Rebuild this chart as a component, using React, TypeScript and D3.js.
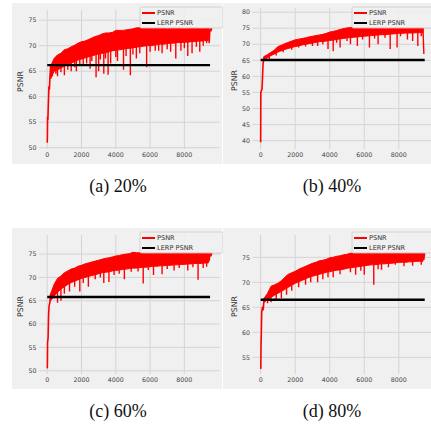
import React from 'react';
import * as d3 from 'd3';

const steps = d3.range(200, 9401, 200);
const xTicks = [0, 2000, 4000, 6000, 8000];
const lerpSpan = [0, 9500];

// (a) 20%
const earlyA: [number, number][] = [[0, 51], [10, 52], [20, 56], [40, 55.5], [60, 58], [80, 60], [100, 62], [130, 61.5], [160, 64], [200, 66]];
const hiA = [66, 67.5, 68.2, 68.5, 69.2, 69.4, 69.8, 70.1, 70.5, 70.8, 70.9, 71.2, 71.5, 71.8, 72, 72.3, 72.5, 72.5, 72.6, 73, 73, 73, 73.1, 73.2, 73.3, 73.5, 73.5,
  73.4, 73.5, 73.5, 73.4, 73.5, 73.5, 73.5, 73.4, 73.5, 73.5, 73.5, 73.5, 73.4, 73.5, 73.5, 73.5, 73.5, 73.4, 73.5, 73.5];
const loA = [63.5, 65, 65.3, 65.6, 66, 66.3, 66.6, 66.9, 67.2, 67.4, 67.6, 67.8, 68, 68.2, 68.4, 68.5, 68.6, 68.8, 69, 69.1,
  69.2, 69.3, 69.4, 69.5, 69.6, 69.7, 69.8, 69.9, 70, 70, 70.1, 70.2, 70.3, 70.3, 70.4, 70.5, 70.5, 70.6, 70.6, 70.7,
  70.7, 70.8, 70.8, 70.9, 70.9, 71, 71];
const dipsA: [number, number][] = [[300, 64], [500, 64.5], [600, 64], [800, 64.8], [1000, 64.2], [1200, 65.3], [1400, 65], [1600, 65.8], [1700, 65],
  [1900, 66.3], [2100, 66], [2300, 66.5], [2500, 65.5], [2600, 67], [2850, 63.8], [3000, 65], [3100, 67.3], [3300, 64.5], [3400, 67.5],
  [3550, 64.3], [3700, 66.5], [4000, 67.8], [4100, 67], [4450, 65.3], [4600, 68], [4850, 64.2], [5000, 68.3], [5200, 67.5], [5400, 68.5],
  [5800, 65.8], [6000, 68.8], [6300, 69], [6500, 69], [6700, 68.5], [7000, 69.3], [7200, 68.8], [7500, 67.5], [7800, 69], [8000, 69.5],
  [8200, 68], [8450, 68.5], [8700, 69.8], [8900, 68.8], [9100, 70], [9300, 70.5]];
const endA: [number, number][] = [[9400, 73.5], [9450, 70.5], [9500, 73.5], [9550, 72.8], [9600, 73.5]];
const lerpA = 66.2;
const yTicksA = [50, 55, 60, 65, 70, 75];

// (b) 40%
const earlyB: [number, number][] = [[0, 39.5], [10, 55], [40, 55.5], [80, 56], [110, 60], [140, 64], [170, 65], [200, 66.2]];
const hiB = [66.2, 66.8, 67.5, 68.2, 69.3, 69.7, 70.2, 70.6, 71, 71.4, 71.6, 71.8, 72, 72.3, 72.5, 72.7, 72.9, 73.1, 73.4, 73.8, 74, 74.3, 74.6, 74.9, 75.1, 75.2,
  75.2, 75.2, 75.1, 75.2, 75.2, 75.2, 75.2, 75.1, 75.2, 75.2, 75.2, 75.2, 75.2, 75.1, 75.2, 75.2, 75.2, 75.2, 75.2, 75.2, 75.2];
const loB = [65.2, 65.8, 66.5, 67, 67.6, 68, 68.4, 68.7, 69, 69.3, 69.5, 69.8, 70, 70.2, 70.4, 70.6, 70.8, 70.9, 71, 71.2,
  71.3, 71.5, 71.7, 71.8, 72, 72.1, 72.2, 72.3, 72.4, 72.5, 72.6, 72.7, 72.8, 72.9, 73, 73, 73.1, 73.2, 73.3, 73.4,
  73.4, 73.5, 73.5, 73.5, 73.6, 73.6, 73.6];
const dipsB: [number, number][] = [[500, 65], [900, 66.5], [1300, 67.5], [1800, 68.3], [2200, 69], [2600, 69.3], [3000, 69.5], [3300, 69.5],
  [3600, 70], [3900, 68.5], [4200, 67.8], [4400, 70.5], [4600, 69], [5000, 71], [5200, 70], [5600, 69.5], [5900, 71.5], [6300, 69],
  [6600, 71.8], [6800, 70], [7200, 72], [7500, 68.5], [7900, 69], [8100, 72.5], [8500, 71.5], [8800, 71], [9100, 69.5], [9300, 72.5]];
const endB: [number, number][] = [[9400, 75.2], [9450, 67]];
const lerpB = 65.1;
const yTicksB = [40, 45, 50, 55, 60, 65, 70, 75, 80];

// (c) 60%
const earlyC: [number, number][] = [[0, 50.5], [10, 51], [20, 56], [50, 57], [80, 62], [110, 64], [150, 64.5], [200, 66.5]];
const hiC = [66.5, 68.5, 69.8, 70.3, 71, 71.4, 71.8, 72, 72.4, 72.6, 72.9, 73.1, 73.3, 73.5, 73.7, 73.9, 74.1, 74.2, 74.4, 74.6, 74.7, 74.9, 75, 75.1, 75.4, 75.3, 75.3,
  75.3, 75.3, 75.2, 75.3, 75.3, 75.4, 75.3, 75.3, 75.2, 75.3, 75.3, 75.3, 75.4, 75.3, 75.3, 75.2, 75.3, 75.3, 75.3, 75.3];
const loC = [65, 66, 66.8, 67.5, 68, 68.5, 68.9, 69.2, 69.5, 69.8, 70, 70.2, 70.4, 70.6, 70.8, 71, 71.1, 71.2, 71.4, 71.5,
  71.6, 71.7, 71.8, 71.9, 72, 72, 72.1, 72.2, 72.2, 72.3, 72.4, 72.4, 72.5, 72.5, 72.6, 72.6, 72.7, 72.7, 72.8, 72.8,
  72.9, 72.9, 73, 73, 73, 73.1, 73.1];
const dipsC: [number, number][] = [[400, 65.5], [600, 64.6], [800, 65], [1000, 66.5], [1300, 67], [1600, 68], [1900, 67], [2100, 68.8],
  [2400, 68], [2800, 69.6], [3100, 70], [3300, 68.8], [3600, 69], [3900, 70.5], [4200, 70.8], [4500, 69.6], [4900, 71.2], [5300, 71.3],
  [5600, 68.7], [5900, 71.6], [6200, 70.5], [6700, 70.7], [7000, 71.8], [7400, 71.5], [7700, 72], [8200, 71.5], [8500, 72.2],
  [8800, 69.5], [9100, 72], [9300, 72.3]];
const endC: [number, number][] = [[9400, 75.3], [9450, 73.5], [9500, 75.3], [9550, 74.5], [9600, 75.3]];
const lerpC = 65.8;
const yTicksC = [50, 55, 60, 65, 70, 75];

// (d) 80%
const earlyD: [number, number][] = [[0, 52.7], [10, 53], [20, 57], [40, 60], [60, 64], [100, 65], [150, 64.5], [200, 66.8]];
const hiD = [66.8, 67.8, 69.2, 69.5, 69.8, 70.3, 71, 71.6, 71.9, 72.2, 72.6, 72.9, 73.2, 73.5, 73.8, 74, 74.3, 74.4, 74.6, 74.9, 75, 75.2, 75.3, 75.5, 75.6, 75.8, 75.9,
  75.9, 75.9, 75.8, 75.9, 75.9, 75.9, 75.9, 75.8, 75.9, 75.9, 75.9, 75.9, 75.9, 75.8, 75.9, 75.9, 75.9, 75.9, 75.9, 75.9];
const loD = [66, 66.5, 67, 67.4, 67.8, 68.2, 68.6, 69, 69.4, 69.8, 70.1, 70.4, 70.7, 71, 71.2, 71.4, 71.6, 71.8, 72, 72.1,
  72.3, 72.4, 72.5, 72.6, 72.8, 72.9, 73, 73.1, 73.2, 73.3, 73.4, 73.5, 73.5, 73.6, 73.7, 73.7, 73.8, 73.8, 73.9, 74,
  74, 74, 74.1, 74.1, 74.2, 74.2, 74.2];
const dipsD: [number, number][] = [[400, 65.8], [600, 66], [900, 66.5], [1200, 66.8], [1500, 67.5], [1800, 68.3], [2200, 69], [2600, 69.5],
  [2900, 70], [3300, 70], [3600, 70.6], [3900, 71], [4200, 71], [4600, 71.6], [5200, 72], [5500, 71.5], [5800, 72.3], [6000, 71.5],
  [6550, 69.5], [6800, 72.6], [7000, 72.5], [7400, 73], [7800, 73.5], [8300, 73.2], [8800, 73.3], [9300, 73.5]];
const endD: [number, number][] = [[9400, 75.9], [9450, 74.5], [9500, 75.9]];
const lerpD = 66.5;
const yTicksD = [55, 60, 65, 70, 75];

const captions = ['(a) 20%', '(b) 40%', '(c) 60%', '(d) 80%'];

const panels = [
  { id: 'a', bg: [12, 3, 222, 164], ax: [39, 10, 220, 149], xd: [-480, 10080], yd: [49.75, 77], yt: yTicksA, early: earlyA, hi: hiA, lo: loA, dips: dipsA, tail: endA, lerp: lerpA, cap: [118, 192] },
  { id: 'b', bg: [223, 3, 431, 164], ax: [252.5, 8, 432, 149], xd: [-472, 9922], yd: [37.4, 81.3], yt: yTicksB, early: earlyB, hi: hiB, lo: loB, dips: dipsB, tail: endB, lerp: lerpB, cap: [332, 192] },
  { id: 'c', bg: [12, 228, 222, 389], ax: [39, 235, 220, 374], xd: [-480, 10080], yd: [49.3, 79.1], yt: yTicksC, early: earlyC, hi: hiC, lo: loC, dips: dipsC, tail: endC, lerp: lerpC, cap: [118, 417] },
  { id: 'd', bg: [223, 228, 431, 389], ax: [252.5, 235, 432, 374], xd: [-472, 9922], yd: [51.66, 79.46], yt: yTicksD, early: earlyD, hi: hiD, lo: loD, dips: dipsD, tail: endD, lerp: lerpD, cap: [332, 417] },
];

const Panel = ({ p, caption }: { p: typeof panels[number]; caption: string }) => {
  const [l, t, r, b] = p.ax;
  const x = d3.scaleLinear().domain(p.xd).range([l, r]);
  const y = d3.scaleLinear().domain(p.yd).range([b, t]);
  const line = d3.line<[number, number]>().x(d => x(d[0])).y(d => y(d[1]));
  const band = d3.area<number>()
    .x((_, i) => x(steps[i]))
    .y0((_, i) => y(p.lo[i]))
    .y1(d => y(d));
  // dips hang from the band's lower edge at the nearest sample
  const spikes = p.dips.map(([it, v]) => {
    const i = Math.min(p.lo.length - 1, Math.max(0, Math.round((it - steps[0]) / 200)));
    return `M${x(it)},${y(p.lo[i]) - 1}L${x(it)},${y(v)}`;
  }).join('');
  const lx = r - 80;
  const ly = p.bg[1] + 4;
  const red = '#ff0000';
  return (
    <g>
      <rect x={p.bg[0]} y={p.bg[1]} width={p.bg[2] - p.bg[0]} height={p.bg[3] - p.bg[1]} fill="#f0f0f0" />
      <clipPath id={'clip-' + p.id}>
        <rect x={l} y={t} width={r - l} height={b - t} />
      </clipPath>
      {p.yt.map(v => (
        <g key={'y' + v}>
          <line x1={l} x2={r} y1={y(v)} y2={y(v)} stroke="#d4d4d4" strokeWidth={1} />
          <text x={l - 2.5} y={y(v)} dy="0.35em" textAnchor="end" fontSize={6.3} fill="#444" fontFamily="DejaVu Sans">{v}</text>
        </g>
      ))}
      {xTicks.map(v => (
        <g key={'x' + v}>
          <line x1={x(v)} x2={x(v)} y1={t} y2={b} stroke="#d4d4d4" strokeWidth={1} />
          <text x={x(v)} y={b + 7.5} textAnchor="middle" fontSize={6.3} fill="#444" fontFamily="DejaVu Sans">{v}</text>
        </g>
      ))}
      <g clipPath={`url(#clip-${p.id})`}>
        <path d={band(p.hi) || ''} fill={red} stroke={red} strokeWidth={1} strokeLinejoin="round" />
        <path d={line(p.early) || ''} fill="none" stroke={red} strokeWidth={1.6} strokeLinejoin="round" />
        <path d={spikes} fill="none" stroke={red} strokeWidth={1.4} />
        <path d={line(p.tail) || ''} fill="none" stroke={red} strokeWidth={1.4} />
        <line x1={x(lerpSpan[0])} x2={x(lerpSpan[1])} y1={y(p.lerp)} y2={y(p.lerp)} stroke="#000" strokeWidth={2.4} />
      </g>
      <text transform={`translate(${l - 18.3},${(t + b) / 2 + 2}) rotate(-90)`} textAnchor="middle" dy="0.35em" fontSize={7.8} fill="#333" fontFamily="DejaVu Sans">PSNR</text>
      <rect x={lx} y={ly} width={83} height={21} rx={1.5} fill="#f0f0f0" fillOpacity={0.85} stroke="#cccccc" strokeWidth={0.8} />
      <line x1={lx + 2} x2={lx + 15} y1={ly + 6} y2={ly + 6} stroke={red} strokeWidth={2} />
      <line x1={lx + 2} x2={lx + 15} y1={ly + 16} y2={ly + 16} stroke="#000" strokeWidth={2} />
      <text x={lx + 17} y={ly + 6} dy="0.35em" fontSize={6.6} fill="#333" fontFamily="DejaVu Sans">PSNR</text>
      <text x={lx + 17} y={ly + 16} dy="0.35em" fontSize={6.6} fill="#333" fontFamily="DejaVu Sans">LERP PSNR</text>
      <text x={p.cap[0]} y={p.cap[1]} textAnchor="middle" fontSize={18} fill="#111" fontFamily="Liberation Serif">{caption}</text>
    </g>
  );
};

export default function App() {
  return (
    <div style={{ position: 'absolute', left: 0, top: 0 }}>
      <svg width={431} height={426} style={{ display: 'block', background: '#fff' }}>
        {panels.map((p, i) => <Panel key={p.id} p={p} caption={captions[i]} />)}
      </svg>
    </div>
  );
}
